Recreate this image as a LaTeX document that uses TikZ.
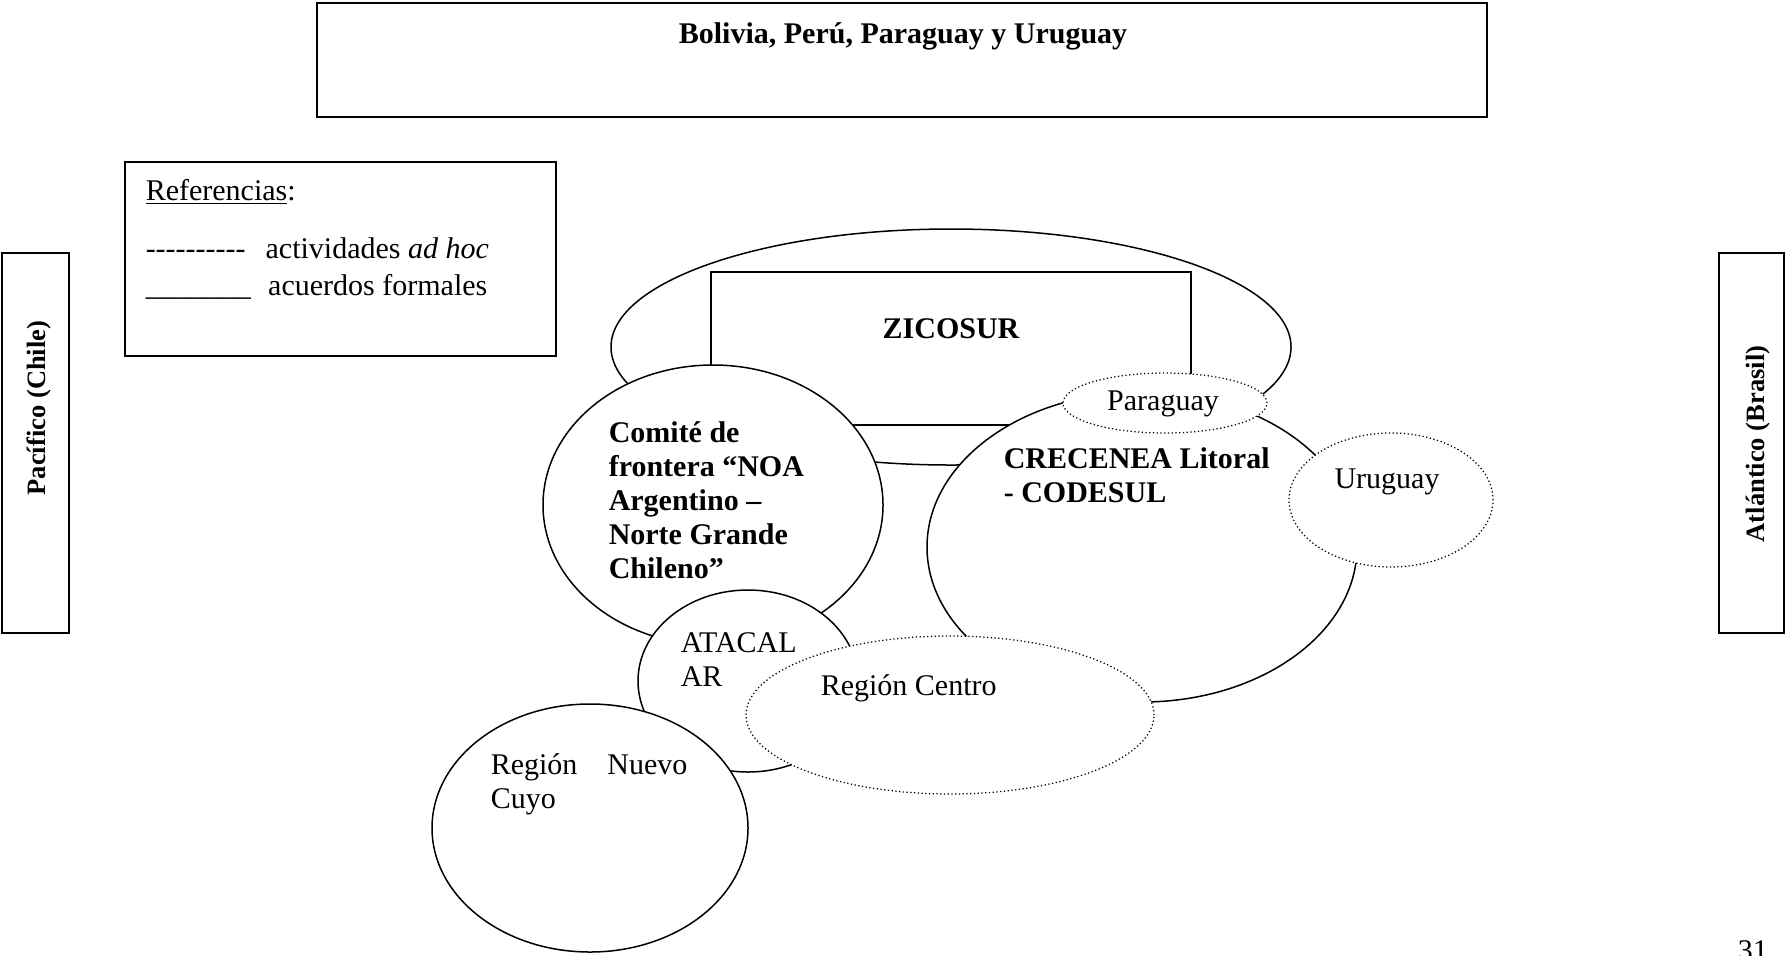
\documentclass[tikz,border=0pt]{standalone}
\usepackage{fontspec}
\setmainfont{Liberation Serif}[Ligatures=TeXOff]
\usetikzlibrary{shapes.geometric}
\begin{document}
\begin{tikzpicture}[x=0.4pt,y=-0.4pt,line width=0.6pt,
  oval/.style 2 args={ellipse,draw,fill=white,inner sep=0pt,minimum width=#1*0.8pt,minimum height=#2*0.8pt},
  adhoc/.style={densely dotted,line width=0.5pt},
  txt/.style={inner sep=0pt,font=\fontsize{12}{13.6}\selectfont},
  negrita/.style={inner sep=0pt,font=\fontsize{12}{13.6}\selectfont\bfseries},
  lateral/.style={inner sep=0pt,rotate=90,font=\fontsize{10.6}{12}\selectfont\bfseries}]
\useasboundingbox (0,0) rectangle (1785,955);
\draw (317,3) rectangle (1487,117);
\node[negrita,anchor=base] (titulo) at (903,43) {Bolivia, Perú, Paraguay y Uruguay};
\draw (125,162) rectangle (556,356);
\node[txt,anchor=base west] (refs) at (145,200) {\underline{Referencias}:};
\node[txt,anchor=base west] (adhoc) at (145,258) {----------\hspace{8pt}actividades \textit{ad hoc}};
\node[txt,anchor=base west] (formal) at (145,295) {\_\_\_\_\_\_\_\hspace{7pt}acuerdos formales};
\draw (2,253) rectangle (69,633);
\node[lateral] (pacifico) at (39,408) {Pacífico (Chile)};
\draw (1719,253) rectangle (1784,633);
\node[lateral] (atlantico) at (1758,444) {Atlántico (Brasil)};
\node[oval={340}{118}] (zicosur) at (951,347) {};
\draw[fill=white] (711,272) rectangle (1191,425);
\node[negrita,anchor=base] (zicotxt) at (951,338) {ZICOSUR};
\node[oval={170}{140}] (comite) at (713,505) {};
\node[negrita,anchor=north west,align=left] (comitetxt) at (608,418)
  {\strut Comité de\\frontera “NOA\\Argentino –\\Norte Grande\\Chileno”};
\node[oval={215}{155}] (crecenea) at (1142,547) {};
\node[negrita,anchor=north west,align=left] (crecetxt) at (1003,444)
  {\strut CRECENEA Litoral\\- CODESUL};
\node[oval={102}{30},adhoc] (paraguay) at (1165,403) {};
\node[txt,anchor=base] (paratxt) at (1163,410) {Paraguay};
\node[oval={102}{67},adhoc] (uruguay) at (1391,500) {};
\node[txt,anchor=base] (urutxt) at (1387,488) {Uruguay};
\node[oval={110}{91}] (atacalar) at (748,681) {};
\node[txt,anchor=north west,align=left] (atatxt) at (680,628) {\strut ATACAL\\AR};
\node[oval={204}{79},adhoc] (centro) at (950,715) {};
\node[txt,anchor=base west] (centrotxt) at (820,695) {Región Centro};
\node[oval={158}{124}] (cuyo) at (590,828) {};
\node[txt,anchor=north west,align=left] (cuyotxt) at (490,750)
  {\strut Región\hspace{12pt}Nuevo\\Cuyo};
\node[txt,anchor=base west] (pagina) at (1737,960) {31};
\end{tikzpicture}
\end{document}
